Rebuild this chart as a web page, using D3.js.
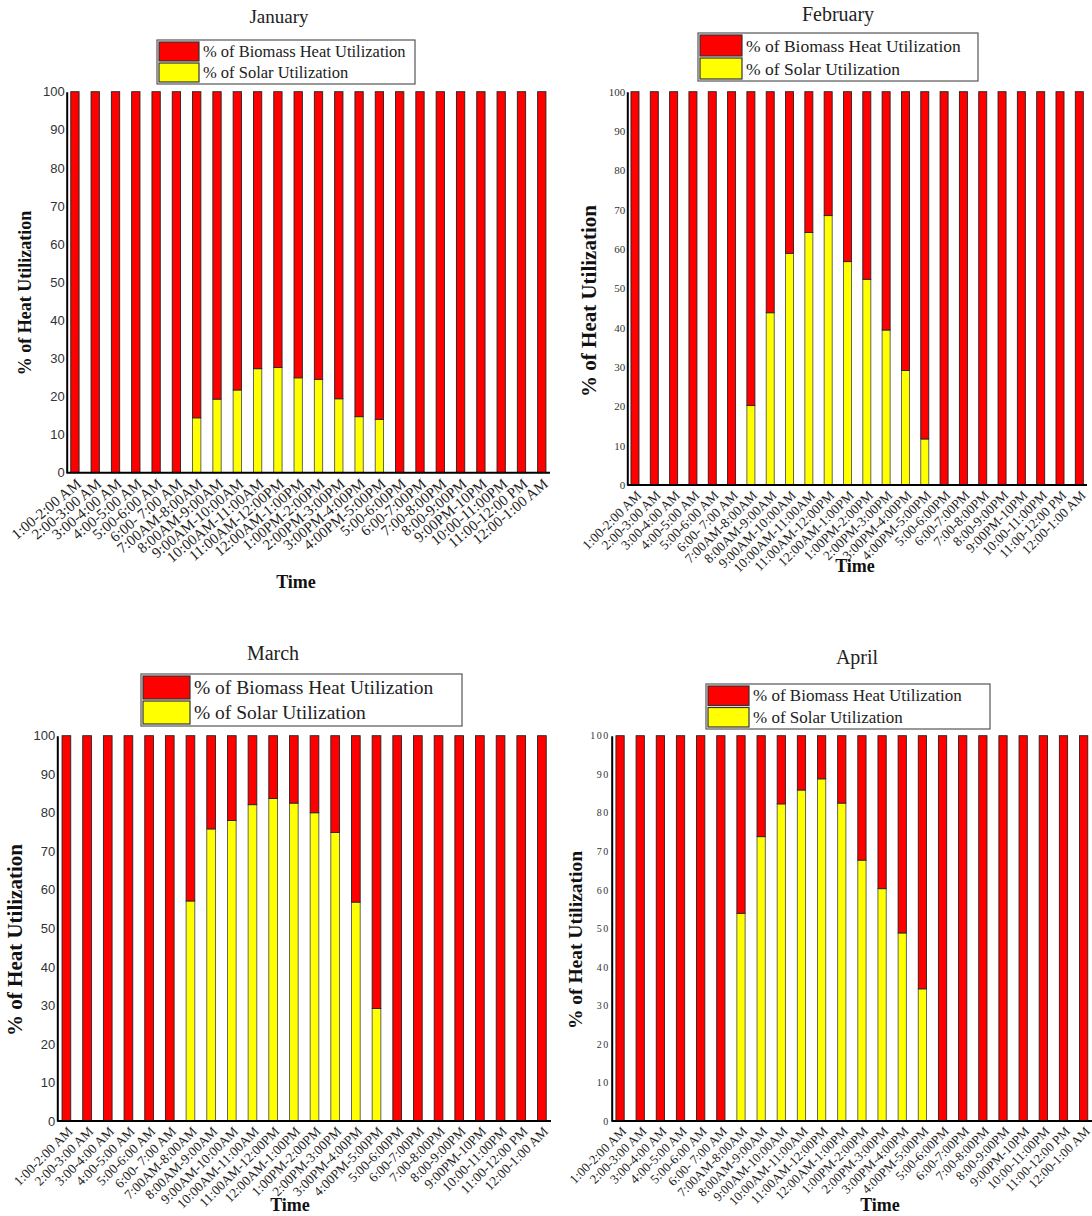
<!DOCTYPE html>
<html>
<head>
<meta charset="utf-8">
<script src="https://cdnjs.cloudflare.com/ajax/libs/d3/7.8.5/d3.min.js"></script>
<style>
  html, body { margin: 0; padding: 0; background: #fff; }
  svg { display: block; }
</style>
</head>
<body>
<svg id="chart" width="1092" height="1216"></svg>
<script>
// Hourly time slots shared by all four months
const timeSlots = [
  "1:00-2:00 AM", "2:00-3:00 AM", "3:00-4:00 AM", "4:00-5:00 AM", "5:00-6:00 AM",
  "6:00- 7:00 AM", "7:00AM-8:00AM", "8:00AM-9:00AM", "9:00AM-10:00AM",
  "10:00AM-11:00AM", "11:00AM-12:00PM", "12:00AM-1:00PM", "1:00PM-2:00PM",
  "2:00PM-3:00PM", "3:00PM-4:00PM", "4:00PM-5:00PM", "5:00-6:00PM", "6:00-7:00PM",
  "7:00-8:00PM", "8:00-9:00PM", "9:00PM-10PM", "10:00-11:00PM", "11:00-12:00 PM",
  "12:00-1:00 AM"
];

const months = ["January", "February", "March", "April"];
const seriesNames = ["% of Solar Utilization", "% of Biomass Heat Utilization"];
const yTicks = [0, 10, 20, 30, 40, 50, 60, 70, 80, 90, 100];

// Share of solar heat per hour (%)
const solarJan = [0, 0, 0, 0, 0, 0, 14.4, 19.3, 21.7, 27.3, 27.6, 24.9, 24.5, 19.4, 14.7, 14.0, 0, 0, 0, 0, 0, 0, 0, 0];
const solarFeb = [0, 0, 0, 0, 0, 0, 20.2, 43.8, 58.9, 64.2, 68.5, 56.8, 52.3, 39.4, 29.1, 11.7, 0, 0, 0, 0, 0, 0, 0, 0];
const solarMar = [0, 0, 0, 0, 0, 0, 57.1, 75.8, 78.0, 82.1, 83.7, 82.5, 80.0, 74.9, 56.8, 29.2, 0, 0, 0, 0, 0, 0, 0, 0];
const solarApr = [0, 0, 0, 0, 0, 0, 53.9, 73.8, 82.3, 85.9, 88.8, 82.5, 67.7, 60.3, 48.8, 34.3, 0, 0, 0, 0, 0, 0, 0, 0];

// Share of biomass heat per hour (%)
const biomassJan = [100, 100, 100, 100, 100, 100, 85.6, 80.7, 78.3, 72.7, 72.4, 75.1, 75.5, 80.6, 85.3, 86.0, 100, 100, 100, 100, 100, 100, 100, 100];
const biomassFeb = [100, 100, 100, 100, 100, 100, 79.8, 56.2, 41.1, 35.8, 31.5, 43.2, 47.7, 60.6, 70.9, 88.3, 100, 100, 100, 100, 100, 100, 100, 100];
const biomassMar = [100, 100, 100, 100, 100, 100, 42.9, 24.2, 22.0, 17.9, 16.3, 17.5, 20.0, 25.1, 43.2, 70.8, 100, 100, 100, 100, 100, 100, 100, 100];
const biomassApr = [100, 100, 100, 100, 100, 100, 46.1, 26.2, 17.7, 14.1, 11.2, 17.5, 32.3, 39.7, 51.2, 65.7, 100, 100, 100, 100, 100, 100, 100, 100];

const solarByMonth = [solarJan, solarFeb, solarMar, solarApr];
const biomassByMonth = [biomassJan, biomassFeb, biomassMar, biomassApr];

const SERIF = "'Liberation Serif', 'Times New Roman', serif";
const SANS = "'Liberation Sans', Arial, sans-serif";
const colors = { solar: "#ffff00", biomass: "#ff0000" };

// Panel geometry and typography
const panels = [
  { x0: 66.7, x1: 550, yTop: 91.7, yBot: 472.7, padIn: 0.59, padOut: 0.2,
    title: { x: 279, y: 23, size: 19 },
    legend: { x: 157, y: 40, w: 258, h: 44, sw: 40, font: 16.5 },
    yTick: { font: SANS, size: 13, fill: "#333", spacing: 0 },
    yLabel: { x: 27, y: 293, size: 18 },
    xTick: { size: 15, rotate: -40, dx: 5, dy: 10 },
    time: { x: 296, y: 588, size: 18 } },
  { x0: 627.3, x1: 1087, yTop: 91.7, yBot: 485, padIn: 0.585, padOut: 0.19,
    title: { x: 838, y: 21, size: 20 },
    legend: { x: 698, y: 33, w: 280, h: 48, sw: 42, font: 17.5 },
    yTick: { font: SERIF, size: 11, fill: "#333", spacing: 0 },
    yLabel: { x: 591, y: 301, size: 21 },
    xTick: { size: 13.5, rotate: -45, dx: 5, dy: 9 },
    time: { x: 855, y: 572, size: 18 } },
  { x0: 57.3, x1: 551, yTop: 735.7, yBot: 1121, padIn: 0.58, padOut: 0.23,
    title: { x: 273, y: 660, size: 20 },
    legend: { x: 141, y: 674, w: 321, h: 52, sw: 47, font: 19.5 },
    yTick: { font: SANS, size: 13, fill: "#333", spacing: 0 },
    yLabel: { x: 17, y: 940, size: 21 },
    xTick: { size: 13.5, rotate: -45, dx: 5, dy: 9 },
    time: { x: 290, y: 1211, size: 18 } },
  { x0: 611.7, x1: 1092, yTop: 735.7, yBot: 1121, padIn: 0.59, padOut: 0.21,
    title: { x: 857, y: 664, size: 20 },
    legend: { x: 706, y: 684, w: 284, h: 45, sw: 41, font: 17 },
    yTick: { font: SERIF, size: 10, fill: "#333", spacing: 1.5 },
    yLabel: { x: 578, y: 940, size: 19.5 },
    xTick: { size: 13, rotate: -45, dx: 5, dy: 9 },
    time: { x: 880, y: 1211, size: 18 } }
];

const svg = d3.select("#chart");

months.forEach((month, m) => {
  const P = panels[m];
  const rows = timeSlots.map((slot, i) => ({
    slot, solar: solarByMonth[m][i], biomass: biomassByMonth[m][i]
  }));
  const stacked = d3.stack().keys(["solar", "biomass"])(rows);

  const x = d3.scaleBand().domain(timeSlots).range([P.x0, P.x1])
    .paddingInner(P.padIn).paddingOuter(P.padOut);
  const y = d3.scaleLinear().domain([0, 100]).range([P.yBot, P.yTop]);

  const g = svg.append("g").attr("class", "panel");

  // stacked bars
  g.selectAll("g.layer").data(stacked).join("g")
    .attr("class", "layer")
    .attr("fill", d => colors[d.key])
    .attr("stroke", d => d.key === "solar" ? "#555" : "#222")
    .attr("stroke-width", 0.9)
    .selectAll("rect").data(d => d.filter(s => s[1] - s[0] > 0)).join("rect")
    .attr("x", d => x(d.data.slot))
    .attr("width", x.bandwidth())
    .attr("y", d => y(d[1]))
    .attr("height", d => y(d[0]) - y(d[1]));

  // y axis
  const yAxis = g.append("g").attr("transform", `translate(${P.x0},0)`)
    .call(d3.axisLeft(y).tickValues(yTicks).tickSize(0).tickPadding(2));
  yAxis.select(".domain").attr("stroke", "#000").attr("stroke-width", 2);
  yAxis.selectAll("text")
    .attr("font-family", P.yTick.font).attr("font-size", P.yTick.size)
    .attr("letter-spacing", P.yTick.spacing).attr("fill", P.yTick.fill);

  // x axis
  const xAxis = g.append("g").attr("transform", `translate(0,${P.yBot})`)
    .call(d3.axisBottom(x).tickSize(0).tickPadding(0));
  xAxis.select(".domain").attr("d", `M${P.x0},0H${P.x1}`)
    .attr("stroke", "#000").attr("stroke-width", 2);
  xAxis.selectAll("text")
    .attr("font-family", SERIF).attr("font-size", P.xTick.size).attr("fill", "#222")
    .attr("text-anchor", "end").attr("dy", null).attr("y", 0)
    .attr("transform", `translate(${P.xTick.dx},${P.xTick.dy}) rotate(${P.xTick.rotate})`)
    .attr("dominant-baseline", "middle");

  // title
  g.append("text").attr("x", P.title.x).attr("y", P.title.y)
    .attr("text-anchor", "middle").attr("font-family", SERIF)
    .attr("font-size", P.title.size).attr("fill", "#222").text(month);

  // axis titles
  g.append("text")
    .attr("transform", `translate(${P.yLabel.x},${P.yLabel.y}) rotate(-90)`)
    .attr("text-anchor", "middle").attr("dominant-baseline", "middle")
    .attr("font-family", SERIF).attr("font-weight", "bold")
    .attr("font-size", P.yLabel.size).attr("fill", "#111")
    .text("% of Heat Utilization");
  g.append("text").attr("x", P.time.x).attr("y", P.time.y)
    .attr("text-anchor", "middle").attr("font-family", SERIF).attr("font-weight", "bold")
    .attr("font-size", P.time.size).attr("fill", "#111").text("Time");

  // legend
  const L = P.legend;
  const lg = g.append("g").attr("transform", `translate(${L.x},${L.y})`);
  lg.append("rect").attr("width", L.w).attr("height", L.h)
    .attr("fill", "#fff").attr("stroke", "#555").attr("stroke-width", 1.2);
  const rowH = (L.h - 2) / 2;
  const legendItems = [
    { key: "biomass", label: seriesNames[1] },
    { key: "solar", label: seriesNames[0] }
  ];
  legendItems.forEach((it, k) => {
    lg.append("rect").attr("x", 2).attr("y", 1 + k * rowH + 1)
      .attr("width", L.sw).attr("height", rowH - 2)
      .attr("fill", colors[it.key]).attr("stroke", "#333").attr("stroke-width", 1.2);
    lg.append("text").attr("x", L.sw + 6).attr("y", 1 + k * rowH + rowH / 2)
      .attr("dominant-baseline", "central")
      .attr("font-family", SERIF).attr("font-size", L.font).attr("fill", "#222")
      .text(it.label);
  });
});
</script>
</body>
</html>
